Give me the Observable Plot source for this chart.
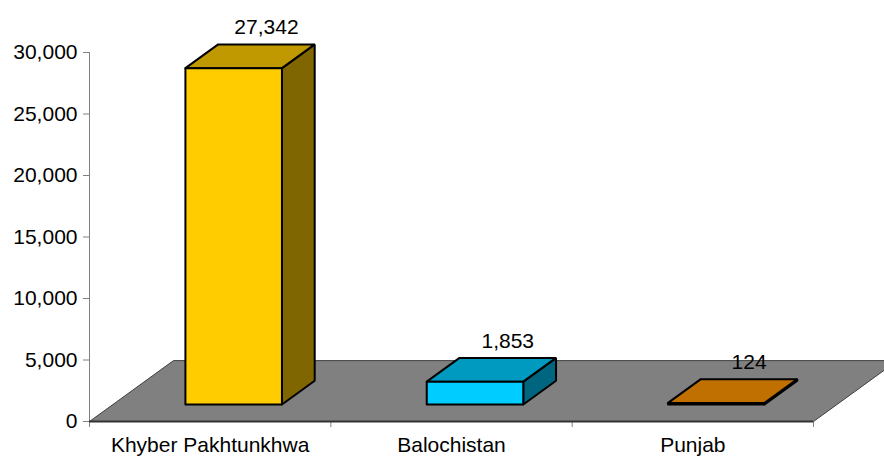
<!DOCTYPE html>
<html>
<head>
<meta charset="utf-8">
<script src="https://cdn.jsdelivr.net/npm/d3@7"></script>
<script src="https://cdn.jsdelivr.net/npm/@observablehq/plot@0.6"></script>
<style>
  html, body { margin: 0; padding: 0; background: #fff; overflow: hidden; }
  #chart svg { display: block; }
</style>
</head>
<body>
<div id="chart"></div>
<script>
// ---- data ----
const categories = ["Khyber Pakhtunkhwa", "Balochistan", "Punjab"];
const values = [27342, 1853, 124];
const frontColors = ["#FFCC00", "#00CCFF", "#FF9900"];
const topColors = ["#C09900", "#0099C0", "#C07000"];
const sideColors = ["#806600", "#006680", "#804C00"];
const yTicks = [0, 5000, 10000, 15000, 20000, 25000, 30000];

// ---- 3D geometry (in scale units) ----
const depth = {x: 0.348, y: 4950};   // floor depth offset
const barFront = 0.28, barBack = 0.67, barHalf = 0.2;
const F = {x: depth.x * barFront, y: depth.y * barFront};
const D = {x: depth.x * (barBack - barFront), y: depth.y * (barBack - barFront)};

const n = categories.length;
const floor = [[0, 0], [n, 0], [n + depth.x, depth.y], [depth.x, depth.y], [0, 0]]
  .map(([x, y]) => ({x, y}));

const polys = [];
function addPoly(id, color, pts) {
  pts.concat([pts[0]]).forEach(([x, y]) => polys.push({id, color, x, y}));
}
values.forEach((v, i) => {
  const x0 = i + 0.5 - barHalf + F.x, x1 = i + 0.5 + barHalf + F.x;
  const y0 = F.y, y1 = v + F.y;
  addPoly(`side${i}`, sideColors[i], [[x1, y0], [x1, y1], [x1 + D.x, y1 + D.y], [x1 + D.x, y0 + D.y]]);
  addPoly(`top${i}`, topColors[i], [[x0, y1], [x1, y1], [x1 + D.x, y1 + D.y], [x0 + D.x, y1 + D.y]]);
  addPoly(`front${i}`, frontColors[i], [[x0, y0], [x1, y0], [x1, y1], [x0, y1]]);
});

const labels = values.map((v, i) => ({
  x: i + 0.5 + F.x + D.x,
  y: v + F.y + D.y,
  text: d3.format(",")(v)
}));

const font = "Liberation Sans, Arial, sans-serif";

const chart = Plot.plot({
  width: 884,
  height: 457,
  marginLeft: 89,
  marginRight: 71,
  marginTop: 52,
  marginBottom: 36,
  style: {fontFamily: font, fontSize: "21px", color: "#000", background: "#fff", overflow: "hidden"},
  x: {type: "linear", domain: [0, n], axis: null},
  y: {domain: [0, 30000], axis: null},
  color: {type: "identity"},
  marks: [
    Plot.ruleX([0], {stroke: "#808080", strokeWidth: 1}),
    Plot.axisY({ticks: yTicks, tickFormat: d3.format(","), tickSize: 6, tickPadding: 6,
                stroke: "#808080", fill: "#000", fontSize: 21, label: null}),
    Plot.axisX({ticks: d3.range(n + 1), tickSize: 6, tickFormat: () => "",
                stroke: "#808080", label: null}),
    Plot.axisX({ticks: categories.map((_, i) => i + 0.5), tickSize: 0, tickPadding: 16,
                tickFormat: (d) => categories[Math.floor(d)], fill: "#000", fontSize: 21, label: null}),
    Plot.line(floor, {x: "x", y: "y", fill: "#808080", stroke: "#404040", strokeWidth: 1}),
    Plot.ruleY([0], {x1: 0, x2: n, stroke: "#333", strokeWidth: 2}),
    Plot.line(polys, {x: "x", y: "y", z: "id", fill: "color", stroke: "#000",
                      strokeWidth: 2, strokeLinejoin: "miter"}),
    Plot.text(labels, {x: "x", y: "y", text: "text", dy: -10, lineAnchor: "bottom",
                       fontSize: 21, fill: "#000"})
  ]
});
document.getElementById("chart").appendChild(chart);
</script>
</body>
</html>
